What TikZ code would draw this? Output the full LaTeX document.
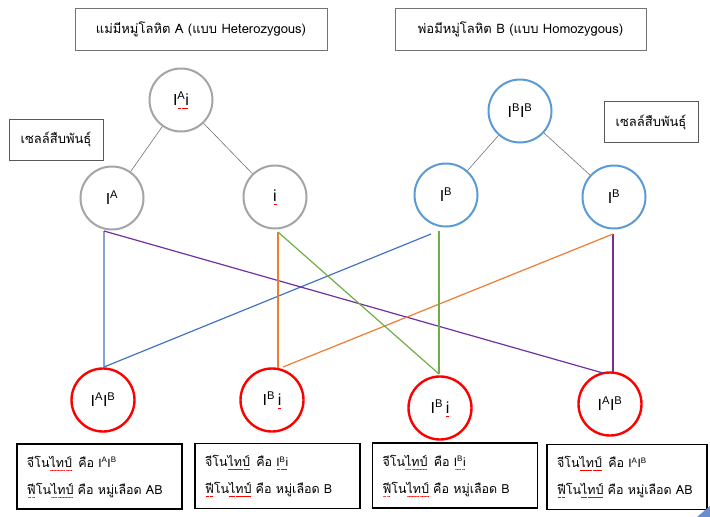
\documentclass[tikz,border=0pt]{standalone}
\usepackage{fontspec}
\setmainfont{Loma}[Script=Thai]
\newfontfamily\lblfont{Liberation Sans}
\definecolor{cgray}{HTML}{A5A5A5}
\definecolor{cblue}{HTML}{5B9BD5}
\definecolor{cred}{HTML}{FF0000}
\definecolor{lblue}{HTML}{4472C4}
\definecolor{lpurp}{HTML}{7030A0}
\definecolor{lorng}{HTML}{ED7D31}
\definecolor{lgren}{HTML}{70AD47}
\newsavebox\wvbox
\newsavebox\rwbox
\AtBeginDocument{\sbox\wvbox{\begin{pgfpicture}%
 \pgfsetlinewidth{0.5pt}\pgfsetstrokecolor{cred}%
 \pgfpathmoveto{\pgfpoint{0pt}{0pt}}%
 \pgfpathcurveto{\pgfpoint{0.5pt}{0.9pt}}{\pgfpoint{1pt}{0.9pt}}{\pgfpoint{1.5pt}{0pt}}%
 \pgfpathcurveto{\pgfpoint{2pt}{-0.9pt}}{\pgfpoint{2.5pt}{-0.9pt}}{\pgfpoint{3pt}{0pt}}%
 \pgfusepath{stroke}%
 \pgfresetboundingbox
 \pgfpathrectangle{\pgfpoint{0pt}{0pt}}{\pgfpoint{3pt}{0pt}}%
 \pgfusepath{use as bounding box}%
\end{pgfpicture}}}
\newcommand\rwave[1]{\leavevmode\sbox\rwbox{#1}\rlap{\lower3pt\hbox to \wd\rwbox{\xleaders\copy\wvbox\hfill}}\usebox\rwbox}
\tikzset{
  gcirc/.style={circle,draw=cgray,line width=2pt,minimum size=63pt,inner sep=0pt,font=\lblfont\fontsize{16}{16}\selectfont},
  bcirc/.style={gcirc,draw=cblue},
  rcirc/.style={gcirc,draw=cred,line width=2.4pt},
  titlebox/.style={draw=black!55,line width=0.9pt,minimum height=42pt,font=\fontsize{13}{15}\selectfont},
  lblbox/.style={draw=black!65,line width=0.9pt,minimum width=94pt,minimum height=41pt,font=\fontsize{13}{15}\selectfont},
  resbox/.style={draw=black,line width=1.4pt,minimum height=65pt,text width=145pt,align=left,inner xsep=10pt,font=\fontsize{12.5}{27}\selectfont},
  tree/.style={draw=black!55,line width=0.6pt},
  conn/.style={line width=1.2pt}
}
\newcommand{\sA}{\textsuperscript{A}}
\newcommand{\sB}{\textsuperscript{B}}
\newcommand{\gt}[1]{{\lblfont\fontsize{12}{12}\selectfont #1}}
\begin{document}
\begin{tikzpicture}[x=1pt,y=-1pt]
\useasboundingbox (0,0) rectangle (710,517);
% titles
\node[titlebox,minimum width=252pt] (t1) at (201,29) {แม่มีหมู่โลหิต A (แบบ Heterozygous)};
\node[titlebox,minimum width=251pt] (t2) at (520.5,29) {พ่อมีหมู่โลหิต B (แบบ Homozygous)};
\node[lblbox] (g1) at (56,139.5) {เซลล์สืบพันธุ์};
\node[lblbox] (g2) at (651,122) {เซลล์สืบพันธุ์};
% parents
\node[gcirc] (mom) at (181,100) {I\rwave{\sA i}};
\node[gcirc] (mA) at (112,198) {I\sA};
\node[gcirc] (mi) at (275,197) {\rwave{i}};
\node[bcirc] (dad) at (520,111) {I\sB I\sB};
\node[bcirc] (dB1) at (446,195) {I\sB};
\node[bcirc] (dB2) at (614,197) {I\sB};
\draw[tree] (mom) -- (mA);
\draw[tree] (mom) -- (mi);
\draw[tree] (dad) -- (dB1);
\draw[tree] (dad) -- (dB2);
% children
\node[rcirc] (c1) at (103,400) {I\sA I\sB};
\node[rcirc] (c2) at (272,400) {I\sB\,\rwave{i}};
\node[rcirc] (c3) at (440,408) {I\sB\,\rwave{i}};
\node[rcirc] (c4) at (610,404) {I\sA I\sB};
% result boxes
\node[resbox] (r1) at (99.5,476.5) {จีโน\rwave{ไทป์}\enspace คือ \gt{I\sA I\sB}\\\rwave{ฟี}โน\rwave{ไทป์} คือ หมู่เลือด AB};
\node[resbox] (r2) at (277.5,476) {จีโน\rwave{ไทป์}\enspace คือ \gt{\rwave{I\sB i}}\\\rwave{ฟี}โน\rwave{ไทป์} คือ หมู่เลือด B};
\node[resbox] (r3) at (455,475.5) {จีโน\rwave{ไทป์}\enspace คือ \gt{\rwave{I\sB i}}\\\rwave{ฟี}โน\rwave{ไทป์} คือ หมู่เลือด B};
\node[resbox,text width=140pt] (r4) at (627,477) {จีโน\rwave{ไทป์}\enspace คือ \gt{I\sA I\sB}\\\rwave{ฟี}โน\rwave{ไทป์} คือ หมู่เลือด AB};
% connector ends
\coordinate (aBot) at (104,231);
\coordinate (c1top) at (104,367);
\coordinate (iBot) at (278,232);
\coordinate (c2top) at (278,368);
\coordinate (c2r) at (283,367);
\coordinate (bEnd) at (431,234);
\coordinate (gTop) at (439,231);
\coordinate (c3top) at (439,374);
\coordinate (oEnd) at (613,234);
\coordinate (c4top) at (613,372);
\coordinate (c4tl) at (603,373);
\draw[conn,lblue] (aBot) -- (c1top) -- (bEnd);
\draw[conn,lpurp] (aBot) -- (c4tl);
\draw[conn,lpurp] (oEnd) -- (c4top);
\draw[conn,lorng] (iBot) -- (c2top);
\draw[conn,lorng] (c2r) -- (oEnd);
\draw[conn,lgren] (iBot) -- (c3top);
\draw[conn,lgren] (gTop) -- (c3top);
% corner mark
\fill[lblue!80] (697,517) -- (710,506) -- (710,517) -- cycle;
\end{tikzpicture}
\end{document}
